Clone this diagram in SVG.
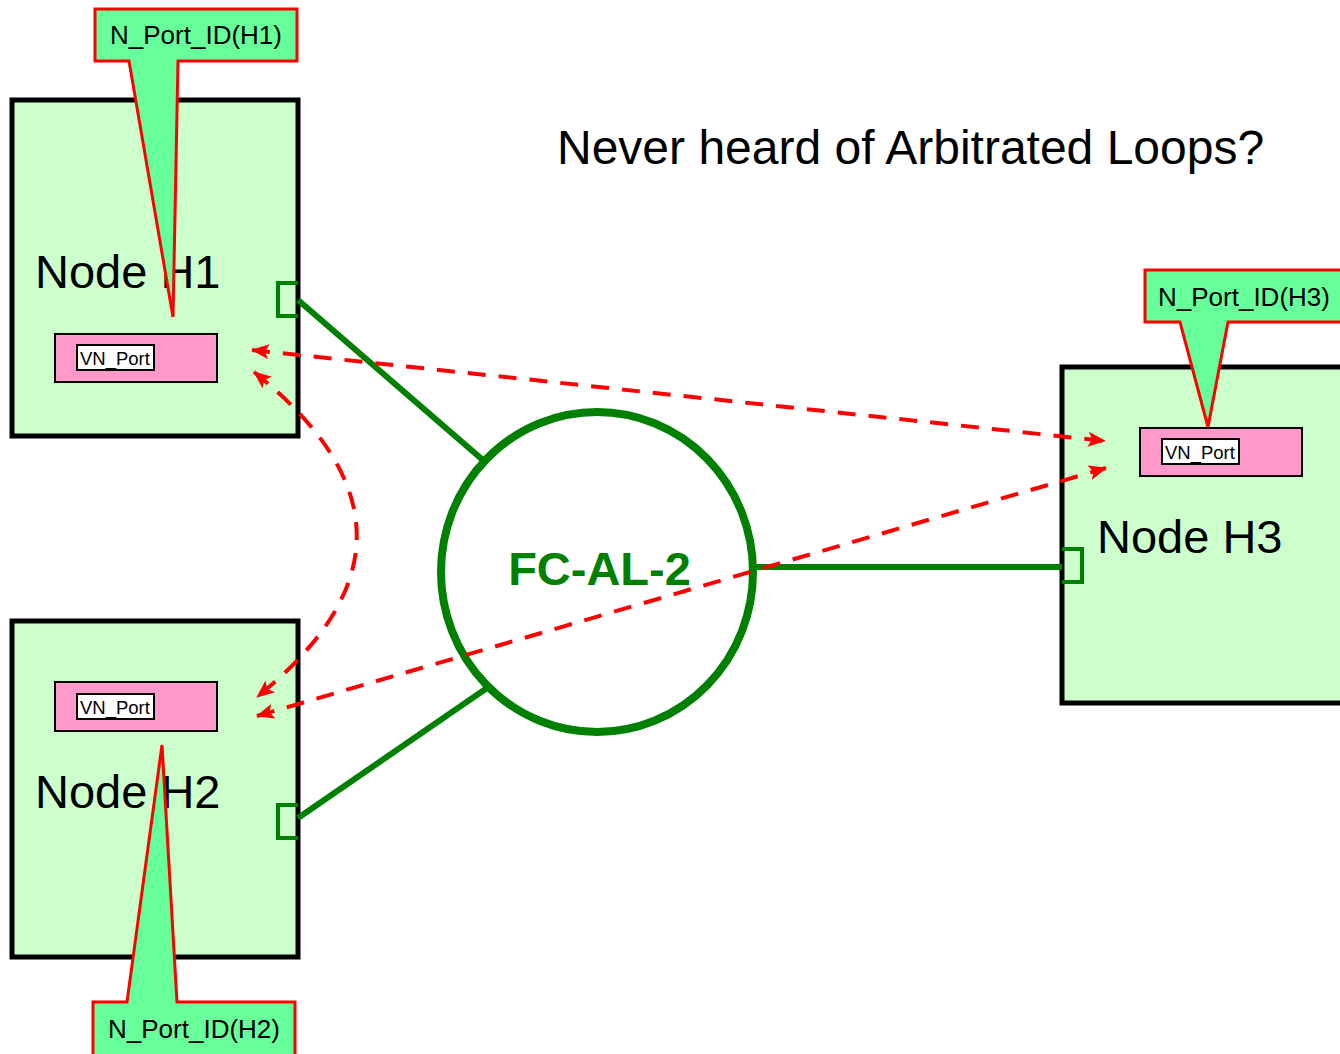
<svg xmlns="http://www.w3.org/2000/svg" width="1340" height="1054" viewBox="0 0 1340 1054">
<defs>
<style>
.node{fill:#ccffcc;stroke:#000;stroke-width:5}
.vn{fill:#ff99cc;stroke:#000;stroke-width:2}
.vnl{fill:#fff;stroke:#000;stroke-width:2}
.vnt{font-family:"Liberation Sans",Arial,sans-serif;font-size:18.5px;fill:#000}
.nt{font-family:"Liberation Sans",Arial,sans-serif;font-size:47px;fill:#000}
.port{fill:none;stroke:#008000;stroke-width:4}
.link{fill:none;stroke:#008000;stroke-width:6}
.dash{fill:none;stroke:#ff0000;stroke-width:4;stroke-dasharray:18 13;marker-start:url(#ah);marker-end:url(#ah)}
.call{fill:#66ff99;stroke:#ff0000;stroke-width:3;stroke-linejoin:miter}
.ct{font-family:"Liberation Sans",Arial,sans-serif;font-size:26px;fill:#000}
</style>
<marker id="ah" markerUnits="userSpaceOnUse" viewBox="0 0 18 15" markerWidth="18" markerHeight="15" refX="17" refY="7.5" orient="auto-start-reverse">
<path d="M0,0 L18,7.5 L0,15 L4,7.5 Z" fill="#ff0000"/>
</marker>
</defs>
<rect width="1340" height="1054" fill="#fff"/>
<text x="557" y="164" font-family="Liberation Sans,Arial,sans-serif" font-size="48" fill="#000">Never heard of Arbitrated Loops?</text>

<g id="nodeH1">
<rect class="node" x="12" y="100" width="286" height="336"/>
<text class="nt" x="35" y="288">Node H1</text>
<rect class="vn" x="55" y="334" width="162" height="48"/>
<rect class="vnl" x="77" y="345" width="77" height="25"/>
<text class="vnt" x="80" y="365">VN_Port</text>
<path class="port" d="M298,283 H278 V316 H298"/>
</g>
<g id="nodeH2">
<rect class="node" x="12" y="621" width="286" height="336"/>
<text class="nt" x="35" y="808">Node H2</text>
<rect class="vn" x="55" y="682" width="162" height="49"/>
<rect class="vnl" x="77" y="694" width="77" height="25"/>
<text class="vnt" x="80" y="714">VN_Port</text>
<path class="port" d="M298,805 H278 V838 H298"/>
</g>
<g id="nodeH3">
<rect class="node" x="1062" y="367" width="290" height="336"/>
<text class="nt" x="1097" y="553">Node H3</text>
<rect class="vn" x="1140" y="428" width="162" height="48"/>
<rect class="vnl" x="1162" y="439" width="77" height="25"/>
<text class="vnt" x="1165" y="459">VN_Port</text>
<path class="port" d="M1062,549 H1082 V582 H1062"/>
</g>

<g id="loop">
<ellipse cx="597" cy="572" rx="156" ry="160" fill="#fff" stroke="#008000" stroke-width="8"/>
<text x="599.5" y="585" text-anchor="middle" font-family="Liberation Sans,Arial,sans-serif" font-weight="bold" font-size="47" fill="#008000">FC-AL-2</text>
</g>

<g id="connectors">
<line class="link" x1="298" y1="300" x2="484" y2="461"/>
<line class="link" x1="298" y1="818" x2="487" y2="688"/>
<line class="link" x1="756" y1="567" x2="1062" y2="567"/>
<path class="dash" d="M252,350 L1105,441"/>
<path class="dash" d="M257,716 L1106,468"/>
<path class="dash" d="M254,372 Q458,535 257,697"/>
</g>

<g id="calloutH1">
<path class="call" d="M95,9 H297 V61 H178 L173,317 L129,61 H95 Z"/>
<text class="ct" x="196" y="44" text-anchor="middle">N_Port_ID(H1)</text>
</g>
<g id="calloutH2">
<path class="call" d="M93,1002 H127 L162,745 L177,1002 H295 V1060 H93 Z"/>
<text class="ct" x="194" y="1038" text-anchor="middle">N_Port_ID(H2)</text>
</g>
<g id="calloutH3">
<path class="call" d="M1145,270 H1345 V322 H1228 L1208,427 L1180,322 H1145 Z"/>
<text class="ct" x="1158" y="306">N_Port_ID(H3)</text>
</g>
</svg>
